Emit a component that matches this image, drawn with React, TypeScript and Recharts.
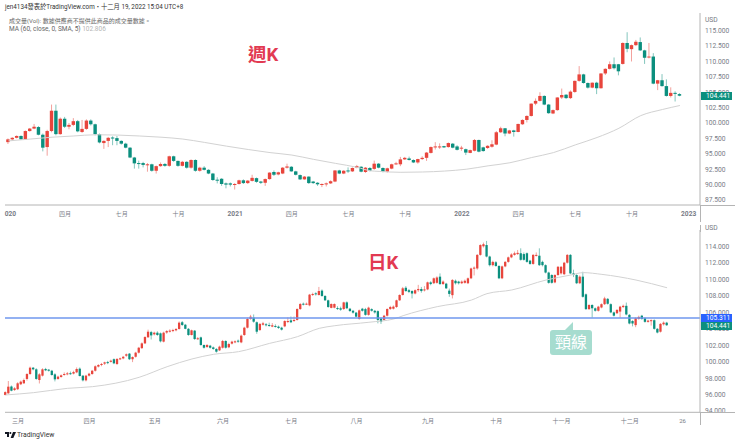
import { Bar, ComposedChart, Line, ReferenceLine, XAxis, YAxis } from "recharts";

const UP = "#e8453c";
const DOWN = "#0b8f7e";
const MA_COLOR = "#d2d2d2";
const AXIS_COLOR = "#b4b4b4";
const TEXT_COLOR = "#787b86";
const FONT = 'Roboto, "Noto Sans CJK TC", sans-serif';

// weekly candles
const weekOpen = [
  96.9, 97.35, 97.6, 97.9, 97.35, 98.7, 99.1, 99.35, 98.1, 96.1,
  98.7, 102, 98.2, 100.7, 99.4, 99.7, 100.3, 98.55, 99.05, 100.4,
  99.8, 98.2, 96.75, 97.1, 97.65, 97.55, 97.1, 96.65, 96, 94.4,
  93.5, 93.5, 93.15, 93.3, 92.25, 93, 93.35, 93.05, 94.6, 93.85,
  93.05, 93.7, 92.75, 94, 92.25, 92.75, 92.4, 91.8, 90.8, 90.95,
  90.2, 90.2, 90, 90.1, 90.7, 90.25, 90.6, 91.05, 90.5, 90.3,
  90.9, 92.05, 91.65, 91.8, 92.75, 92.9, 92.15, 91.55, 90.85, 91.3,
  90.5, 90.3, 90, 90.1, 90.2, 90.5, 92.3, 91.8, 92.3, 92.15,
  92.75, 92.9, 92.05, 92.7, 92.55, 93.4, 92.7, 92.1, 92.6, 93.3,
  93.3, 94.1, 94.25, 94, 93.6, 94.15, 94.35, 95.15, 96.1, 96.1,
  96.25, 96.1, 96.65, 96.2, 95.95, 95.75, 95.15, 95.5, 97.25, 96.05,
  95.95, 96.15, 96.5, 98.5, 99.15, 98.3, 98.8, 98.55, 99.8, 100.5,
  101.15, 103.15, 103.6, 104.4, 103, 101.55, 102.1, 104.15, 104.6, 104.05,
  105.05, 106.85, 107.9, 106.5, 105.75, 106.55, 105.65, 108.05, 108.8, 109.55,
  109.55, 109.6, 113, 112, 112.65, 113.15, 111.8, 110.65, 110.8, 106.4,
  106.95, 106, 104.4, 104.9, 104.7,
];
const weekClose = [
  97.35, 97.6, 97.9, 97.35, 98.7, 99.1, 99.4, 98.1, 96, 98.7,
  102, 98.2, 100.7, 99.4, 99.7, 100.3, 98.65, 99.05, 100.4, 99.8,
  98.2, 96.85, 97.1, 97.6, 97.55, 97.1, 96.65, 96, 94.4, 93.45,
  93.35, 93.2, 93.3, 92.25, 93, 93.35, 93.05, 94.6, 93.85, 93.05,
  93.7, 92.75, 94, 92.25, 92.75, 92.4, 91.8, 90.75, 90.7, 90.1,
  90, 90, 90.1, 90.7, 90.25, 90.65, 91.1, 90.45, 90.3, 90.9,
  91.95, 91.6, 92, 92.75, 92.95, 92.15, 91.6, 90.85, 91.3, 90.25,
  90.25, 90.05, 90.1, 90.2, 90.55, 92.3, 91.8, 92.25, 92.15, 92.7,
  93, 92.1, 92.75, 92.25, 93.4, 92.75, 92.1, 92.65, 93.3, 93.45,
  94.1, 94.35, 94, 93.6, 94.15, 94.35, 95.2, 96.1, 96.2, 96.2,
  96.05, 96.75, 96, 95.65, 96, 95.2, 95.6, 97.25, 95.35, 95.45,
  96.3, 96.55, 98.5, 99.15, 98.3, 98.8, 98.55, 99.85, 100.5, 101.15,
  103.15, 103.6, 104.4, 103, 101.6, 102.1, 104.15, 104.55, 104.05, 105.1,
  106.85, 107.9, 106.5, 105.75, 106.55, 105.65, 108.05, 108.8, 109.55, 108.9,
  108.4, 113, 112.05, 112.65, 113.2, 111.8, 110.6, 110.8, 106.4, 106.95,
  106, 104.4, 104.9, 104.85, 104.44,
];
const weekHigh = [
  97.5, 97.7, 98, 98, 98.8, 99.2, 99.85, 99.5, 98.3, 98.9,
  103, 103, 100.9, 101, 100, 100.8, 100.5, 100.5, 100.6, 100.6,
  99.9, 98.3, 97.2, 97.75, 97.85, 97.9, 97.2, 96.8, 96.1, 94.5,
  93.9, 93.7, 93.5, 93.4, 93.1, 93.6, 93.5, 94.7, 94.7, 93.9,
  93.85, 93.8, 94.1, 94.1, 92.9, 93, 92.5, 91.9, 91.2, 91.05,
  90.35, 90.35, 90.25, 90.8, 90.85, 90.75, 91.6, 91.15, 90.6, 91,
  92, 92.3, 92.1, 92.85, 93.4, 93, 92.25, 91.65, 91.4, 91.35,
  90.6, 90.4, 90.2, 90.35, 90.7, 92.35, 92.4, 92.35, 92.8, 92.8,
  93.2, 93, 92.85, 92.85, 93.9, 93.5, 92.8, 92.75, 93.4, 93.7,
  94.5, 94.5, 94.55, 94.1, 94.2, 94.6, 95.3, 96.2, 96.9, 96.7,
  96.3, 96.85, 96.75, 96.4, 96.3, 95.85, 95.7, 97.4, 97.3, 96.15,
  96.4, 97.2, 98.7, 99.4, 99.2, 98.9, 98.9, 99.9, 100.6, 101.25,
  103.2, 104, 105, 104.5, 103.1, 102.2, 104.2, 105.6, 104.7, 105.3,
  106.9, 109.25, 108, 106.6, 106.6, 106.7, 108.1, 108.9, 110, 110.65,
  109.6, 113.1, 114.75, 112.75, 113.5, 113.9, 111.9, 113, 111.35, 107,
  107.95, 107.1, 105.8, 105.15, 104.85,
];
const weekLow = [
  96.6, 97.2, 97.5, 97.25, 97.3, 98.6, 99, 98, 95.4, 94.7,
  98.5, 98, 98.1, 99.2, 99, 99.5, 98.5, 98.4, 98.9, 99.6,
  98, 96.7, 95.8, 96.1, 96.4, 96.4, 96.5, 95.9, 94.3, 92.6,
  92.6, 92.8, 92.1, 92.1, 91.8, 92.9, 92.9, 92.9, 93.7, 92.9,
  92.95, 92.6, 92.6, 92.1, 92.1, 92.3, 91.7, 90.6, 90.2, 89.8,
  89.4, 89.7, 89.2, 90, 90.1, 90.1, 90.5, 90.3, 90.1, 89.8,
  90.8, 91.4, 91.5, 91.7, 92.6, 92.1, 91.5, 90.75, 90.8, 90.1,
  90.1, 89.8, 89.6, 89.7, 90.1, 90.4, 91.7, 91.7, 91.9, 92.05,
  92.65, 92, 91.9, 92.15, 92.4, 92.65, 92, 91.95, 92.5, 93.2,
  93, 94, 93.9, 93.5, 93.4, 94, 93.85, 95.05, 95.7, 95.8,
  95.95, 96, 95.9, 95.55, 95.5, 94.8, 95.1, 95.4, 95.25, 95.35,
  95.8, 96, 96.4, 98.4, 97.85, 98.2, 97.8, 98.5, 99.7, 100.1,
  101.05, 102.9, 103.5, 102.9, 101.5, 101.45, 102, 103.9, 103.9, 103.9,
  104.9, 106.7, 106.4, 105.6, 105.65, 104.7, 105.6, 107.8, 108.7, 108.7,
  107.75, 109.5, 111.5, 110, 112.5, 111.7, 109.6, 110.5, 106.3, 105.35,
  105.9, 104.3, 104.15, 103.5, 104.35,
];
const weekMaIdx = [0, 5, 10, 15, 20, 25, 30, 35, 40, 45, 50, 55, 60, 65, 70, 75, 80, 83, 85, 90, 95, 100, 105, 110, 115, 120, 125, 130, 135, 140, 145, 150, 154];
const weekMa = [97.1, 97.4, 97.7, 97.9, 98.1, 98.05, 97.9, 97.7, 97.4, 96.85, 96.25, 95.7, 95.2, 94.8, 94.1, 93.45, 92.8, 92.25, 92.15, 92, 92.05, 92.2, 92.5, 93.05, 93.55, 94.4, 95.2, 96.45, 97.65, 99.15, 101.2, 102.2, 102.85];
const weekTicks = [115, 112.5, 110, 107.5, 105, 102.5, 100, 97.5, 95, 92.5, 90, 87.5];
const weekXIdx = [0, 13, 26, 39, 52, 65, 78, 91, 104, 117, 130, 143, 156];
const weekXLabels = ["020", "四月", "七月", "十月", "2021", "四月", "七月", "十月", "2022", "四月", "七月", "十月", "2023"];

// daily candles
const dayOpen = [
  95.95, 96.15, 96.98, 96.55, 96.65, 97.25, 97.37, 97.9, 98.5, 99.27,
  99.07, 97.77, 98.3, 99.11, 99.03, 98.9, 98.46, 97.9, 98.14, 98.38,
  98.46, 98.6, 98.55, 98.7, 99.15, 98.3, 97.73, 98.3, 98.5, 98.9,
  99.4, 99.6, 99.76, 99.95, 99.98, 100.3, 99.72, 100.3, 100.4, 100.73,
  100.98, 100.3, 100.6, 101.1, 101.65, 102.23, 102.97, 103.6, 103.33, 103.53,
  103.45, 102.44, 103.55, 103.65, 103.73, 103.82, 103.98, 104.8, 104.5, 104,
  103.25, 103.78, 102.76, 102.96, 102.03, 101.78, 101.95, 101.74, 101.55, 101.38,
  101.7, 102.52, 101.75, 102.2, 102.35, 102.56, 102.35, 103.25, 104.14, 105.2,
  105.36, 104.8, 103.85, 104.5, 104.55, 104.47, 104.27, 104.35, 104.27, 104.14,
  104.3, 104.83, 105.03, 104.95, 105.08, 106.41, 107.06, 106.98, 106.86, 108.12,
  108.32, 108.12, 108.65, 108, 107.47, 106.55, 106.58, 106.53, 106.5, 106.41,
  107.22, 106.45, 106.2, 105.97, 105.2, 106.45, 106.4, 105.7, 106.4, 106.2,
  106.15, 105.25, 105.08, 105.6, 106.41, 106.45, 106.66, 107.47, 108.12, 109,
  108.7, 108.6, 108.3, 108.7, 108.85, 108.7, 108.8, 109.66, 109.55, 109.6,
  110.35, 109.45, 109.5, 108.65, 108.1, 109.85, 109.75, 109.55, 109.6, 109.55,
  110.15, 111.35, 111.35, 113, 114.05, 114.2, 112.8, 111.75, 112.1, 111.65,
  110.15, 111.6, 112.15, 112.7, 113, 113.1, 113.2, 113.1, 113.2, 112.3,
  111.9, 112.9, 112.9, 112.15, 111.75, 110.85, 110.55, 109.65, 110.55, 110.75,
  110.65, 112.05, 113, 110.75, 110.55, 109.55, 110.35, 108.2, 106.4, 106.9,
  106.5, 106.2, 106.6, 107, 107.65, 107, 106, 105.9, 106.1, 106.65,
  106.8, 105.7, 104.95, 104.45, 105.2, 105.6, 105.3, 104.85, 105, 105.05,
  104, 103.65, 104.55, 104.75,
];
const dayClose = [
  96.3, 96.96, 96.47, 96.76, 97.37, 97.57, 97.77, 98.5, 99.27, 99.07,
  97.9, 98.46, 99.07, 98.95, 98.9, 98.38, 97.85, 98.18, 98.34, 98.5,
  98.58, 98.5, 98.74, 99.11, 98.26, 97.73, 98.3, 98.54, 98.9, 99.44,
  99.6, 99.72, 99.92, 99.85, 100.12, 99.8, 100.33, 100.41, 100.6, 100.9,
  100.3, 100.57, 101.1, 101.7, 102.23, 103, 103.65, 103.2, 103.53, 103.25,
  102.48, 103.53, 103.73, 103.78, 103.85, 103.98, 104.75, 104.47, 104, 103.25,
  103.82, 102.76, 102.85, 102.03, 101.7, 102.03, 101.7, 101.55, 101.22, 101.83,
  102.52, 101.7, 102.15, 102.44, 102.48, 102.44, 103.17, 104.14, 105.2, 105.48,
  104.87, 103.65, 104.6, 104.67, 104.43, 104.35, 104.43, 104.27, 104.1, 103.9,
  104.95, 104.95, 104.8, 105.08, 106.41, 107.02, 106.94, 107.06, 108.16, 108.24,
  108.2, 108.6, 108, 107.47, 106.66, 107.02, 107.02, 106.41, 106.33, 107.22,
  106.5, 106.17, 105.97, 105.48, 106.25, 106.2, 105.7, 106.58, 106.2, 106,
  105.08, 104.87, 105.6, 106.41, 106.66, 106.7, 107.47, 108.12, 108.93, 108.6,
  108.5, 108.3, 108.7, 108.85, 108.6, 108.8, 109.66, 109.45, 110.15, 110.25,
  109.45, 109.75, 108.93, 108.25, 109.95, 109.55, 109.55, 109.75, 109.85, 110.15,
  111.35, 111.45, 113, 114.2, 114.3, 112.8, 111.75, 112.15, 111.65, 110.15,
  111.6, 112.15, 112.7, 113.05, 113.2, 113.25, 112.4, 112.4, 112.15, 111.9,
  113, 113, 111.75, 111.75, 110.85, 109.6, 109.6, 110.55, 111.55, 111.55,
  112.05, 113, 110.75, 110.55, 109.55, 110.35, 107.9, 106.4, 106.9, 106.5,
  106.2, 106.7, 107, 107.7, 107.05, 106, 105.6, 106.3, 106.7, 106.8,
  105.75, 104.65, 104.65, 105.3, 105.45, 105.2, 104.85, 105, 105.05, 104,
  103.55, 104.6, 104.75, 104.44,
];
const dayHigh = [
  96.4, 97.65, 97.1, 96.9, 97.5, 97.7, 97.95, 98.6, 99.4, 99.35,
  99.2, 98.6, 99.2, 99.25, 99.1, 99, 98.6, 98.3, 98.45, 98.7,
  98.75, 98.8, 98.9, 99.3, 99.3, 98.35, 98.4, 98.65, 99, 99.55,
  99.7, 99.85, 100, 100.1, 100.25, 100.4, 100.45, 100.5, 100.7, 101,
  101.05, 100.65, 101.2, 101.8, 102.35, 103.1, 103.9, 103.75, 103.65, 103.7,
  103.55, 103.65, 103.85, 103.95, 104, 104.1, 104.9, 104.95, 104.6, 104.1,
  103.9, 103.85, 103, 103.05, 102.1, 102.15, 102.05, 101.85, 101.65, 101.95,
  102.65, 102.6, 102.3, 102.55, 102.6, 102.7, 103.3, 104.25, 105.35, 105.7,
  105.75, 104.9, 104.7, 104.85, 104.7, 104.75, 104.7, 104.55, 104.4, 104.25,
  105.05, 105.4, 105.5, 105.5, 106.5, 107.15, 107.2, 107.2, 108.25, 108.4,
  108.45, 109.1, 108.8, 108.1, 107.55, 107.1, 107.1, 106.75, 106.7, 107.3,
  107.35, 106.55, 106.3, 106.05, 106.35, 106.55, 106.55, 106.7, 106.5, 106.3,
  106.25, 105.35, 105.7, 106.5, 106.8, 106.85, 107.55, 108.2, 109.1, 109.2,
  108.85, 108.7, 108.8, 109.35, 109.1, 109.2, 109.75, 109.8, 110.25, 110.4,
  110.75, 109.9, 109.6, 108.9, 110.05, 110, 109.85, 109.9, 110, 110.25,
  111.45, 111.6, 113.1, 114.3, 114.5, 114.7, 112.9, 112.3, 112.25, 111.75,
  111.7, 112.25, 112.8, 113.2, 113.4, 113.6, 113.8, 113.3, 113.3, 112.4,
  113.1, 113.3, 113.8, 112.3, 111.85, 110.95, 110.65, 110.65, 111.65, 111.65,
  112.15, 113.1, 113.1, 111.2, 110.65, 110.5, 110.95, 108.3, 107, 107,
  106.6, 106.8, 107.1, 107.9, 107.75, 107.1, 106.1, 106.4, 106.8, 106.95,
  107.2, 105.8, 105.05, 105.4, 105.6, 105.7, 105.4, 105.1, 105.15, 105.15,
  104.1, 104.7, 104.9, 104.85,
];
const dayLow = [
  95.9, 96.1, 96.4, 96.45, 96.55, 97.15, 97.3, 97.7, 98.4, 98.95,
  97.8, 97.35, 98.2, 98.85, 98.8, 98.3, 97.6, 97.8, 98.05, 98.3,
  98.35, 98.4, 98.45, 98.6, 98.2, 97.6, 97.6, 98.2, 98.4, 98.8,
  99.3, 99.45, 99.6, 99.7, 99.9, 99.7, 99.6, 100.2, 100.3, 100.6,
  100.2, 99.95, 100.5, 101, 101.55, 102.15, 102.9, 102.7, 103.2, 103.15,
  102.35, 102.35, 103.4, 103.55, 103.6, 103.7, 103.9, 104.35, 103.95, 103.15,
  103.2, 102.65, 102.65, 101.95, 101.6, 101.7, 101.6, 101.45, 101.1, 101.3,
  101.6, 101.6, 101.65, 102.1, 102.25, 102.3, 102.25, 103.15, 104.05, 105.1,
  104.75, 103.4, 103.75, 104.4, 104.3, 104.25, 104.2, 104.15, 104, 103.8,
  104.2, 104.7, 104.7, 104.85, 105, 106.3, 106.85, 106.9, 106.75, 108,
  108.05, 108.05, 107.9, 107.4, 106.55, 106.5, 106.5, 106.3, 106.2, 106.3,
  106.4, 106.05, 105.85, 105.4, 105.1, 106.1, 105.6, 105.6, 106.1, 105.85,
  104.67, 104.6, 105, 105.5, 106.3, 106.35, 106.55, 107.4, 108.05, 108.5,
  108.35, 107.7, 108.2, 108.5, 108.4, 108.55, 108.7, 109.3, 109.45, 109.5,
  109.35, 109.35, 108.85, 107.9, 107.7, 109.4, 109.4, 109.45, 109.5, 109.45,
  110.05, 110.5, 111.2, 112.9, 113.9, 112.7, 111.6, 111.6, 111.55, 110.05,
  110.05, 111.5, 112.05, 112.6, 112.9, 113, 112.3, 112.3, 112.05, 111.8,
  111.8, 112.8, 111.65, 111.6, 110.75, 109.5, 109.5, 109.55, 110.45, 110.6,
  110.55, 111.95, 110.65, 110.3, 109.45, 109.45, 107.8, 106.3, 106.3, 105.36,
  106.1, 106.1, 106.5, 106.9, 106.95, 105.9, 105.5, 105.8, 105.35, 106.55,
  105.65, 104.55, 104.3, 104.2, 105.1, 105.1, 104.75, 104.75, 104.4, 103.9,
  103.45, 103.55, 104.4, 104.35,
];
const dayMaIdx = [0, 9, 20, 28, 43, 52, 60, 67, 75, 85, 94, 101, 106, 117, 125, 128, 139, 150, 155, 163, 174, 182, 186, 192, 203, 213];
const dayMa = [95.95, 96.23, 96.76, 96.96, 98.1, 99.39, 100.33, 100.9, 101.22, 102.23, 103.05, 104.06, 104.38, 104.8, 105.2, 105.6, 106.7, 107.5, 108.28, 108.73, 109.94, 110.55, 110.84, 110.63, 109.94, 109];
const dayTicks = [114, 112, 110, 108, 106, 104, 102, 100, 98, 96, 94];
const dayXIdx = [4, 27, 48, 70, 92, 113, 136, 158, 179, 201, 218];
const dayXLabels = ["三月", "四月", "五月", "六月", "七月", "八月", "九月", "十月", "十一月", "十二月", "26"];

const lastPrice = 104.441;
const neckline = 105.311;

const weekDomain = [86.69, 117.87];
const dayDomain = [93.84, 116.03];

function buildRows(open: number[], high: number[], low: number[], close: number[], maIdx: number[], ma: number[]) {
  return open.map((o, i) => {
    const m = maIdx.indexOf(i);
    return { idx: i, open: o, high: high[i], low: low[i], close: close[i], ma: m >= 0 ? ma[m] : null };
  });
}

const weekRows = buildRows(weekOpen, weekHigh, weekLow, weekClose, weekMaIdx, weekMa);
const dayRows = buildRows(dayOpen, dayHigh, dayLow, dayClose, dayMaIdx, dayMa);

function Candle({ x, y, width, height, payload, bodyWidth }: any) {
  const { open, close, high, low } = payload;
  const color = close >= open ? UP : DOWN;
  const span = high - low || 1;
  const top = y + ((high - Math.max(open, close)) / span) * height;
  const bodyHeight = Math.max(1, (Math.abs(open - close) / span) * height);
  const cx = x + width / 2;
  return (
    <g>
      <rect x={cx - 0.5} y={y} width={1} height={height} fill={color} opacity={0.5} />
      <rect x={cx - bodyWidth / 2} y={top} width={bodyWidth} height={bodyHeight} fill={color} />
    </g>
  );
}

function TimeTick({ x, y, payload, labels, ids }: any) {
  const label = labels[ids.indexOf(payload.value)];
  const isYear = /^20/.test(label) || label === "020";
  return (
    <text
      x={label === "020" ? x + 2 : x}
      y={y}
      dy={2.5}
      textAnchor="middle"
      fontSize={isYear ? 6.6 : 6}
      fontWeight={isYear ? 700 : 400}
      fill={TEXT_COLOR}
      fontFamily={FONT}
    >
      {label}
    </text>
  );
}

function Candles({ data, domain, ticks, xIds, xLabels, xDomain, bodyWidth, width, height, margin, xHeight, children }: any) {
  return (
    <ComposedChart width={width} height={height} data={data} margin={margin}>
      <XAxis
        dataKey="idx"
        type="number"
        domain={xDomain}
        ticks={xIds}
        interval={0}
        height={xHeight}
        stroke={AXIS_COLOR}
        tickLine={false}
        tick={<TimeTick labels={xLabels} ids={xIds} />}
      />
      <YAxis
        orientation="right"
        type="number"
        domain={domain}
        ticks={ticks}
        interval={0}
        width={40}
        stroke={AXIS_COLOR}
        tickLine={false}
        tickSize={0}
        tickMargin={5}
        allowDataOverflow
        tick={{ fontSize: 6.7, fill: TEXT_COLOR, fontFamily: FONT }}
        tickFormatter={(v: number) => v.toFixed(3)}
      />
      <Line dataKey="ma" type="monotone" stroke={MA_COLOR} strokeWidth={1} dot={false} connectNulls isAnimationActive={false} />
      <Bar
        dataKey={(d: any) => [d.low, d.high]}
        barSize={bodyWidth}
        isAnimationActive={false}
        shape={(p: any) => <Candle {...p} bodyWidth={bodyWidth} />}
      />
      {children}
    </ComposedChart>
  );
}

const absolute = (left: number, top: number, extra: any = {}) => ({ position: "absolute", left, top, whiteSpace: "nowrap", ...extra }) as any;

// price tags sit over the axis labels, so they are html on top of the svg
function PriceTag({ price, domain, plotTop, plotBottom, color, dy = 0 }: any) {
  const y = plotBottom - ((price - domain[0]) / (domain[1] - domain[0])) * (plotBottom - plotTop) + dy;
  return (
    <div style={absolute(701, y - 4, { width: 31, height: 8, lineHeight: "8px", background: color, color: "#fff", fontSize: 6.7, paddingLeft: 5, boxSizing: "border-box" })}>
      {price.toFixed(3)}
    </div>
  );
}

export default function App() {
  return (
    <div style={{ position: "absolute", left: 0, top: 0, width: 740, height: 443, background: "#fff", overflow: "hidden", fontFamily: FONT }}>
      <div style={absolute(0, 0)}>
        <Candles
          data={weekRows}
          domain={weekDomain}
          ticks={weekTicks}
          xIds={weekXIdx}
          xLabels={weekXLabels}
          xDomain={[-0.78, 158.6]}
          bodyWidth={3.4}
          width={740}
          height={225}
          margin={{ top: 13, right: 0, bottom: 0, left: 5 }}
          xHeight={20}
        />
      </div>
      <div style={absolute(0, 225)}>
        <Candles
          data={dayRows}
          domain={dayDomain}
          ticks={dayTicks}
          xIds={dayXIdx}
          xLabels={dayXLabels}
          xDomain={[-0.2, 223.6]}
          bodyWidth={2.3}
          width={740}
          height={210}
          margin={{ top: 5, right: 0, bottom: 0, left: 5 }}
          xHeight={22.7}
        >
          <ReferenceLine y={neckline} stroke="#6f97ee" strokeWidth={1.5} />
        </Candles>
      </div>

      {/* axis stubs outside the plot areas */}
      <div style={absolute(700, 205, { width: 35, height: 1, background: AXIS_COLOR })} />
      <div style={absolute(700, 412, { width: 35, height: 1, background: AXIS_COLOR })} />
      <div style={absolute(700, 205, { width: 1, height: 17, background: AXIS_COLOR })} />
      <div style={absolute(700, 225, { width: 1, height: 7, background: AXIS_COLOR })} />
      <div style={absolute(700, 412, { width: 1, height: 13, background: AXIS_COLOR })} />

      <PriceTag price={lastPrice} domain={weekDomain} plotTop={13} plotBottom={205} color={DOWN} />
      <PriceTag price={neckline} domain={dayDomain} plotTop={230} plotBottom={412.3} color="#2962ff" />
      <PriceTag price={lastPrice} domain={dayDomain} plotTop={230} plotBottom={412.3} color={DOWN} dy={1.2} />

      <div style={absolute(5, 3, { fontSize: 6.3, lineHeight: "9px", color: "#333" })}>jen4134發表於TradingView.com・十二月 19, 2022 15:04 UTC+8</div>
      <div style={absolute(9, 17, { fontSize: 6, lineHeight: "8px", color: "#666" })}>成交量(Vol): 數據供應商不提供此商品的成交量數據。</div>
      <div style={absolute(9, 25.3, { fontSize: 6.5, lineHeight: "8px", color: "#666" })}>
        MA (60, close, 0, SMA, 5) <span style={{ color: "#b5b5b5" }}>102.806</span>
      </div>
      <div style={absolute(705, 16, { fontSize: 6.7, lineHeight: "8px", color: TEXT_COLOR })}>USD</div>
      <div style={absolute(705, 224, { fontSize: 6.7, lineHeight: "8px", color: TEXT_COLOR })}>USD</div>

      <div style={absolute(248, 41, { fontSize: 18.5, lineHeight: "28px", fontWeight: 700, color: "#e23a52" })}>週K</div>
      <div style={absolute(368, 249, { fontSize: 18.5, lineHeight: "28px", fontWeight: 700, color: "#e23a52" })}>日K</div>

      <div style={absolute(550, 330, { width: 42, height: 25, background: "#a6dccf", borderRadius: 3, color: "#fff", fontSize: 16, lineHeight: "25px", textAlign: "center" })}>
        頸線
      </div>
      <div style={absolute(565, 322, { width: 0, height: 0, borderLeft: "8px solid transparent", borderBottom: "8px solid #a6dccf" })} />

      <svg style={absolute(5, 432)} width={11} height={6} viewBox="0 0 11 6">
        <path d="M0 0H4V5H2V2H0Z" fill="#131722" />
        <circle cx={5.4} cy={1} r={1} fill="#131722" />
        <path d="M8 0H11L8.3 6H5.6Z" fill="#131722" />
      </svg>
      <div style={absolute(17, 431, { fontSize: 6.8, lineHeight: "9px", color: "#333" })}>TradingView</div>
    </div>
  );
}
